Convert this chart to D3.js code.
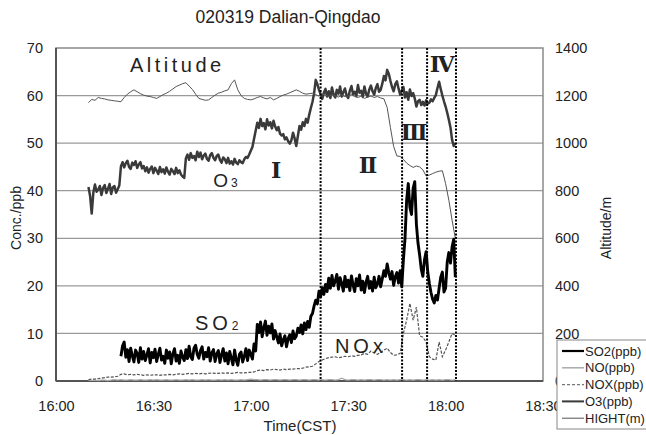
<!DOCTYPE html>
<html><head><meta charset="utf-8">
<script src="https://cdn.jsdelivr.net/npm/d3@7"></script>
<style>
body{margin:0;background:#fff}
svg{display:block}
text{font-family:"Liberation Sans",Arial,sans-serif;fill:#222}
</style>
</head><body>
<svg id="c" width="646" height="435"></svg>
<script>
// ---------- DATA (time in minutes after 16:00) ----------
const title = "020319 Dalian-Qingdao";
const xTickLabels = ["16:00","16:30","17:00","17:30","18:00","18:30"];
const leftTicks = [0,10,20,30,40,50,60,70];
const rightTicks = [0,200,400,600,800,1000,1200,1400];
const phaseBoundaries = [81.5, 106.6, 114.3, 123.2]; // minutes after 16:00

// SO2 (ppb): every 0.5 min from 16:20
const so2Start = 20, so2Step = 0.5;
const so2 = [
 5.2,7.4, 8.2,5.0, 6.6,4.1, 6.9,5.3, 4.0,6.5, 5.8,3.9, 7.0,4.6, 6.2,4.3, 5.5,6.8, 3.8,6.0,
 4.9,6.7, 4.1,5.6, 6.9,4.4, 5.2,3.7, 6.5,4.8, 6.1,3.6, 5.7,6.8, 4.2,5.4, 3.7,6.3, 5.0,4.3,
 6.6,4.7, 7.3,5.1, 4.5,6.9, 7.5,5.6, 4.8,6.4, 7.2,4.6, 6.0,5.1, 7.0,4.2, 5.9,6.6, 4.1,5.7,
 6.4,3.9, 5.5,6.8, 4.2,5.9, 3.6,6.2, 4.8,3.4, 6.5,4.4, 3.3,5.6, 6.1,4.0, 5.2,6.8, 4.3,6.5,
 5.6,4.6, 7.8,6.3, 11.9,10.2, 12.4,9.3, 11.2,12.6, 9.6,11.5, 10.1,12.0, 8.8,10.6, 9.3,8.0, 9.9,7.4,
 8.6,9.5, 7.2,8.9, 9.7,8.1, 10.5,8.9, 9.4,11.1, 10.2,11.8, 9.9,12.2, 10.8,12.5, 11.3,13.6, 14.2,15.8,
 17.0,16.2, 18.9,17.7, 19.6,18.2, 20.3,18.8, 21.6,19.5, 22.2,20.0, 21.0,22.4, 19.3,21.7, 20.5,18.9, 22.0,19.8,
 21.2,19.0, 22.1,20.2, 18.8,21.5, 20.0,22.3, 19.1,21.0, 18.6,20.8, 22.0,19.5, 20.9,18.9, 21.8,19.6, 20.4,22.0,
 19.8,21.5, 23.2,22.0, 24.6,22.8, 21.4,23.0, 20.1,21.9, 22.8,20.6, 23.2,19.8, 25.5,30.0, 38.0,41.5, 36.5,35.0,
 40.5,41.9, 33.0,29.0, 26.5,23.5, 22.0,25.5, 27.2,23.0, 20.5,18.6, 17.2,16.4, 18.0,17.0, 19.5,21.8, 22.9,18.7,
 19.5,25.0, 27.0,24.8, 28.2,29.8, 21.8];

// O3 (ppb): every 0.5 min from 16:10
const o3Start = 10, o3Step = 0.5;
const o3 = [
 40.8,38.9, 35.2,39.6, 41.3,39.8, 40.2,41.0, 39.1,40.6, 41.2,39.5, 40.4,41.4, 39.3,40.7, 41.0,39.6, 40.3,41.1,
 45.1,46.0, 44.9,45.8, 46.3,45.0, 44.6,45.9, 45.4,46.2, 44.8,45.5, 46.0,44.7, 45.2,44.1, 44.9,43.8, 44.6,45.1,
 43.7,44.8, 44.2,43.5, 45.0,43.9, 44.5,43.6, 44.9,44.0, 43.4,44.6, 44.1,43.5, 44.8,43.7, 44.3,43.4, 43.0,42.7,
 46.8,47.6, 46.5,47.9, 46.9,47.3, 46.4,48.2, 47.1,48.0, 46.6,47.4, 47.8,46.7, 46.3,47.5, 47.9,46.9, 46.4,47.3,
 47.6,46.5, 45.9,47.0, 46.6,45.8, 46.9,45.7, 46.2,45.5, 46.7,45.9, 45.6,46.4, 46.0,45.8, 46.6,47.1, 46.9,47.6,
 48.4,49.2, 50.9,52.6, 54.3,53.2, 55.1,53.6, 54.2,52.9, 55.0,53.7, 54.4,53.1, 54.7,53.5, 52.7,53.4, 52.0,51.6,
 51.9,50.8, 51.2,50.4, 49.9,50.6, 52.2,51.0, 49.4,51.5, 53.6,52.8, 54.4,53.6, 55.1,54.3, 56.0,57.4, 58.7,60.5,
 63.3,62.4, 61.2,60.3, 59.3,60.6, 61.4,59.8, 60.9,59.5, 61.7,60.2, 59.6,61.2, 60.4,61.9, 59.8,60.7, 61.5,60.0,
 59.5,61.0, 62.0,60.3, 60.8,59.9, 62.2,60.6, 61.0,59.7, 61.9,60.4, 59.8,61.3, 62.1,60.9, 60.2,61.6, 62.4,60.8,
 61.2,62.5, 64.1,63.2, 65.4,64.6, 63.1,61.8, 60.9,62.4, 63.0,61.5, 60.2,61.0, 61.8,59.6, 60.7,59.1, 61.3,59.9,
 60.5,59.4, 57.7,58.8, 59.1,58.0, 58.7,57.9, 59.0,58.3, 58.5,59.2, 58.8,59.5, 60.1,61.6, 62.9,61.4, 60.0,58.8,
 57.7,56.4, 54.9,53.3, 50.7,49.4, 50.0];

// NO, NOX (ppb) and HIGHT (m): every minute from 16:10
const minStart = 10, minStep = 1;
const no = [
 0.1,0.1,0.2,0.1,0.2,0.2,0.1,0.2,0.3,0.2,
 0.3,0.2,0.2,0.3,0.2,0.2,0.3,0.2,0.2,0.3,
 0.2,0.3,0.2,0.2,0.3,0.2,0.2,0.3,0.2,0.2,
 0.3,0.2,0.3,0.2,0.2,0.3,0.2,0.3,0.2,0.2,
 0.3,0.2,0.3,0.2,0.3,0.2,0.2,0.3,0.2,0.3,
 0.4,0.3,0.3,0.2,0.3,0.3,0.2,0.3,0.3,0.2,
 0.3,0.3,0.2,0.3,0.3,0.2,0.3,0.3,0.2,0.3,
 0.3,0.2,0.3,0.2,0.3,0.3,0.2,0.3,0.6,0.3,
 0.2,0.3,0.3,0.2,0.3,0.2,0.3,0.3,0.2,0.3,
 0.3,0.2,0.3,0.2,0.3,0.2,0.3,0.3,0.2,0.3,
 0.2,0.3,0.3,0.2,0.3,0.2,0.3,0.2,0.3,0.2,
 0.3,0.3,0.2,0.3];

const nox = [
 0.3,0.4,0.4,0.5,0.6,0.7,0.8,0.8,0.9,1.0,
 1.4,1.5,1.3,1.4,1.3,1.4,1.3,1.2,1.3,1.2,
 1.3,1.3,1.2,1.3,1.3,1.4,1.3,1.4,1.5,1.4,
 1.5,1.6,1.5,1.6,1.5,1.6,1.5,1.6,1.7,1.6,
 1.6,1.7,1.6,1.7,1.6,1.7,1.8,1.7,1.7,1.8,
 1.8,1.9,2.2,2.3,2.2,2.4,2.3,2.5,2.4,2.3,
 2.5,2.4,2.5,2.5,2.6,2.6,2.7,2.9,3.0,3.1,
 3.6,4.1,4.4,4.7,4.9,5.0,5.1,4.9,5.0,5.2,
 5.1,5.3,5.2,5.4,5.5,5.8,5.6,6.3,5.9,5.6,
 6.0,6.5,6.9,6.0,5.4,5.5,5.8,10.0,12.8,16.3,
 12.8,15.5,9.5,9.2,8.2,5.1,4.6,4.4,8.2,5.1,
 6.5,8.2,10.0,9.6];

const altitude = [
 1170,1184,1180,1192,1188,1186,1182,1180,1178,1176,
 1174,1192,1206,1216,1224,1216,1208,1202,1198,1196,
 1192,1188,1196,1204,1210,1218,1228,1238,1244,1250,
 1254,1240,1226,1206,1188,1184,1180,1182,1192,1202,
 1210,1214,1220,1224,1250,1266,1224,1200,1188,1184,
 1182,1186,1192,1196,1190,1186,1192,1182,1188,1196,
 1202,1206,1212,1218,1224,1218,1210,1206,1208,1210,
 1204,1198,1206,1202,1196,1204,1198,1194,1202,1196,
 1198,1204,1196,1192,1198,1188,1194,1198,1192,1196,
 1190,1186,1150,1066,986,946,944,932,916,906,
 898,904,900,888,862,866,872,878,882,884,
 830,760,676,600];

// ---------- CHART ----------
const svg = d3.select("#c");
const L = 56, R = 543, T = 48, B = 381;
const x = d3.scaleLinear().domain([0,150]).range([L,R]);
const y = d3.scaleLinear().domain([0,70]).range([B,T]);
const yR = d3.scaleLinear().domain([0,1400]).range([B,T]);

svg.append("rect").attr("width",646).attr("height",435).attr("fill","#fff");

// title
svg.append("text").attr("x",288).attr("y",23).attr("text-anchor","middle")
  .style("font-size","17.5px").text(title);

// gridlines
svg.append("g").selectAll("line").data(leftTicks.filter(d=>d>0 && d<70)).join("line")
  .attr("x1",L).attr("x2",R).attr("y1",d=>y(d)).attr("y2",d=>y(d))
  .attr("stroke","#9a9a9a").attr("stroke-width",1.3);

// frame
svg.append("rect").attr("x",L).attr("y",T).attr("width",R-L).attr("height",B-T)
  .attr("fill","none").attr("stroke","#8a8a8a").attr("stroke-width",1.5);
svg.append("line").attr("x1",L).attr("x2",L).attr("y1",T).attr("y2",B).attr("stroke","#555").attr("stroke-width",2);
svg.append("line").attr("x1",L).attr("x2",R).attr("y1",B).attr("y2",B).attr("stroke","#555").attr("stroke-width",2);

// axes
const fs = "14.5px";
const ax = svg.append("g").attr("transform",`translate(0,${B})`)
  .call(d3.axisBottom(x).tickValues(d3.range(0,151,30)).tickFormat((d,i)=>xTickLabels[i]).tickSize(0).tickPadding(20));
const ay = svg.append("g").attr("transform",`translate(${L},0)`)
  .call(d3.axisLeft(y).tickValues(leftTicks).tickFormat(d3.format("d")).tickSize(0).tickPadding(13));
const ayR = svg.append("g").attr("transform",`translate(${R},0)`)
  .call(d3.axisRight(yR).tickValues(rightTicks).tickFormat(d3.format("d")).tickSize(0).tickPadding(12));
[ax,ay,ayR].forEach(g=>{g.select(".domain").remove();
  g.selectAll("text").style("font-size",fs).style("font-family","Liberation Sans, Arial, sans-serif").attr("fill","#222");});

// axis titles
svg.append("text").attr("x",300).attr("y",431).attr("text-anchor","middle").style("font-size","15px").text("Time(CST)");
svg.append("text").attr("transform","translate(21,218) rotate(-90)").attr("text-anchor","middle").style("font-size","14px").text("Conc./ppb");
svg.append("text").attr("transform","translate(611,228) rotate(-90)").attr("text-anchor","middle").style("font-size","14px").text("Altitude/m");

// series
function series(vals, start, step){ return vals.map((v,i)=>({t:start+i*step, v})); }
const lineL = d3.line().x(d=>x(d.t)).y(d=>y(d.v));
const lineR = d3.line().x(d=>x(d.t)).y(d=>yR(d.v));
const g = svg.append("g");
g.append("path").datum(series(so2,so2Start,so2Step)).attr("d",lineL)
  .attr("fill","none").attr("stroke","#000").attr("stroke-width",2.9).attr("stroke-linejoin","round");
g.append("path").datum(series(no,minStart,minStep)).attr("d",lineL)
  .attr("fill","none").attr("stroke","#aaa").attr("stroke-width",1.2);
g.append("path").datum(series(nox,minStart,minStep)).attr("d",lineL)
  .attr("fill","none").attr("stroke","#555").attr("stroke-width",1.2).attr("stroke-dasharray","3,1.5");
g.append("path").datum(series(o3,o3Start,o3Step)).attr("d",lineL)
  .attr("fill","none").attr("stroke","#3a3a3a").attr("stroke-width",2.5).attr("stroke-linejoin","round");
g.append("path").datum(series(altitude,minStart,minStep)).attr("d",lineR)
  .attr("fill","none").attr("stroke","#555").attr("stroke-width",1);

// phase boundaries
svg.append("g").selectAll("line").data(phaseBoundaries).join("line")
  .attr("x1",d=>x(d)).attr("x2",d=>x(d)).attr("y1",T).attr("y2",B)
  .attr("stroke","#000").attr("stroke-width",2).attr("stroke-dasharray","2,1.5");

// annotations
const ann = svg.append("g");
ann.append("text").attr("x",x(22.8)).attr("y",y(65)).style("font-size","20px").style("letter-spacing","3.5px").text("Altitude");
const o3t = ann.append("text").attr("x",x(48.4)).attr("y",y(40.8)).style("font-size","19px");
o3t.append("tspan").text("O");
o3t.append("tspan").attr("dx",3).style("font-size","12px").text("3");
const so2t = ann.append("text").attr("x",x(42.8)).attr("y",y(10.7)).style("font-size","20px").style("letter-spacing","4px");
so2t.append("tspan").text("SO");
so2t.append("tspan").style("font-size","12px").style("letter-spacing","0px").text("2");
ann.append("text").attr("x",x(85.9)).attr("y",y(5.9)).style("font-size","20px").style("letter-spacing","4px").text("NOx");
const roman = [["Ⅰ",67.8,42.7],["Ⅱ",96.1,43.7],["Ⅲ",110.3,50.7],["Ⅳ",119,65]];
ann.selectAll("text.r").data(roman).join("text").attr("class","r")
  .attr("x",d=>x(d[1])).attr("y",d=>y(d[2])).attr("text-anchor","middle")
  .style("font-family","DejaVu Serif, Liberation Serif, serif").style("font-weight","bold")
  .style("font-size","22px").attr("fill","#111").text(d=>d[0]);

// legend
const leg = svg.append("g");
leg.append("rect").attr("x",557).attr("y",340).attr("width",100).attr("height",89)
  .attr("fill","#fff").attr("stroke","#888").attr("stroke-width",1);
const legItems = [
  {name:"SO2(ppb)", c:"#000", w:2.2, d:null},
  {name:"NO(ppb)", c:"#aaa", w:1.5, d:null},
  {name:"NOX(ppb)", c:"#777", w:1.3, d:"3,2"},
  {name:"O3(ppb)", c:"#3a3a3a", w:2, d:null},
  {name:"HIGHT(m)", c:"#555", w:1, d:null}];
legItems.forEach((it,i)=>{
  const yy = 351 + i*16.8;
  leg.append("line").attr("x1",562).attr("x2",584).attr("y1",yy).attr("y2",yy)
    .attr("stroke",it.c).attr("stroke-width",it.w).attr("stroke-dasharray",it.d);
  leg.append("text").attr("x",585).attr("y",yy+4.5).style("font-size","13px").text(it.name);
});
</script>
</body></html>
